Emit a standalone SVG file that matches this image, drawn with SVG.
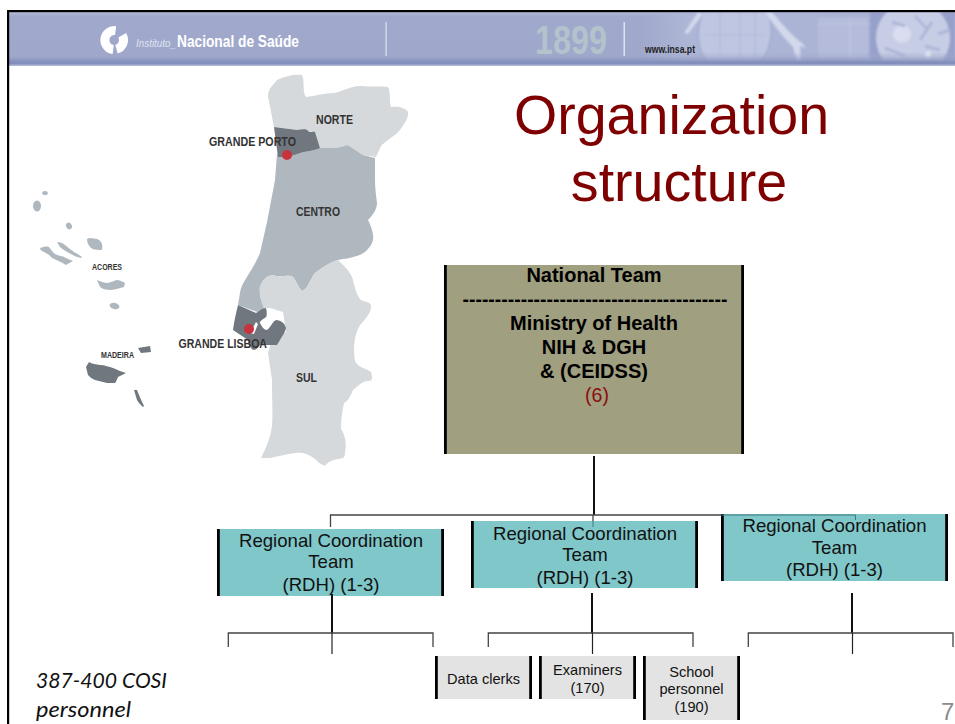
<svg xmlns="http://www.w3.org/2000/svg" width="955" height="724" viewBox="0 0 955 724">
<style>
text{font-family:"Liberation Sans",Arial,sans-serif}
.m{text-anchor:middle}
.bar{fill:#000}
.nat{font-size:20px;font-weight:bold;fill:#000}
.reg{font-size:18.6px;fill:#111}
.grey{font-size:14.6px;fill:#111}
.title{font-size:55.6px;fill:#7f0000}
.lab{font-weight:bold;fill:#333}
.hd{fill:#fff}
.c1{fill:none;stroke:#222;stroke-width:1.2}
.c2{fill:none;stroke:#444;stroke-width:1.3}
.c3{fill:none;stroke:#111;stroke-width:2}
.note{font-family:Lato,"Open Sans",sans-serif;font-style:italic;font-size:22px;fill:#111}
</style>
<defs>
<linearGradient id="hg" x1="0" y1="0" x2="0" y2="1">
<stop offset="0" stop-color="#b3bad6"/><stop offset=".08" stop-color="#a0a9cc"/><stop offset=".82" stop-color="#9fa8cb"/><stop offset=".95" stop-color="#7f8bb9"/><stop offset="1" stop-color="#b9bfdb"/>
</linearGradient>
<linearGradient id="ph" x1="0" y1="0" x2="1" y2="0">
<stop offset="0" stop-color="#aeb6d6" stop-opacity="0"/><stop offset=".15" stop-color="#aeb6d6" stop-opacity="1"/><stop offset="1" stop-color="#a9b1d4"/>
</linearGradient>
<linearGradient id="fade" x1="0" y1="0" x2="0" y2="1">
<stop offset="0" stop-color="#fff"/><stop offset=".8" stop-color="#fff"/><stop offset="1" stop-color="#000"/>
</linearGradient>
<mask id="photoMask" maskUnits="userSpaceOnUse" x="640" y="12" width="315" height="50"><rect x="640" y="12" width="315" height="50" fill="url(#fade)"/></mask>
<filter id="soft" x="-5%" y="-5%" width="110%" height="110%"><feGaussianBlur stdDeviation="0.6"/></filter>
<filter id="tex" x="0" y="0" width="100%" height="100%"><feGaussianBlur stdDeviation="1"/></filter>
</defs>

<g id="header">
<rect x="9" y="12" width="946" height="54" fill="url(#hg)"/>
<g mask="url(#photoMask)">
<rect x="640" y="12" width="315" height="50" fill="url(#ph)"/>
<g filter="url(#tex)">
<path d="M703 12C696 30 696 48 708 62H760C772 48 774 28 768 12Z" fill="#bfc6e1"/>
<path d="M703 12C696 30 696 48 708 62M768 12C774 28 772 48 760 62" fill="none" stroke="#98a2ca" stroke-width="1"/>
<path d="M720 12V58M740 12V58M755 12V58M705 35H765" stroke="#b1b9da" stroke-width="1.200" fill="none"/>
<path d="M698 12L684 33L688 34L703 14ZM772 12C782 24 792 36 803 44L806 48L800 46L801 62H797L793 47C784 38 776 28 765 12Z" fill="#d3d8ec"/>
<rect x="818" y="18" width="50" height="42" fill="#b5bcdb"/>
<path d="M818 24H870M850 18V60" stroke="#c2c8e2" stroke-width="1"/>
<rect x="870" y="12" width="85" height="48" fill="#96a0ca"/>
<circle cx="913" cy="38" r="37" fill="#c7cde5"/>
<circle cx="902" cy="34" r="9" fill="#d9ddef"/>
<path d="M915 16L928 30M932 22L920 40M885 48L905 56M925 46L940 50M938 34L950 30M892 22L905 26" stroke="#aab3d6" stroke-width="2.500" fill="none"/>
<circle cx="928" cy="55" r="3" fill="#eceef7"/>
</g>
</g>
<g id="logo" fill="none" stroke="#fff" stroke-width="9">
<path d="M115.600 30.600A9.500 9.500 0 1 0 113.200 49.500"/>
<path d="M122.200 35.200A9.500 9.500 0 0 1 116.500 49.200"/>
</g>
<text x="136" y="47" font-size="10" font-style="italic" fill="#dfe3f0" textLength="40" lengthAdjust="spacingAndGlyphs">Instituto_</text>
<text x="177" y="47" font-size="16" font-weight="bold" class="hd" textLength="122" lengthAdjust="spacingAndGlyphs">Nacional de Saúde</text>
<rect x="385.500" y="22" width="1.200" height="34" fill="#dfe3f0"/>
<text x="535" y="54" font-size="41" font-weight="bold" fill="#b4c2cc" textLength="72" lengthAdjust="spacingAndGlyphs">1899</text>
<rect x="623.500" y="22" width="1.500" height="34" fill="#dfe3f0"/>
<text x="645" y="53" font-size="10" font-weight="bold" fill="#222" textLength="50" lengthAdjust="spacingAndGlyphs">www.insa.pt</text>
</g>
<rect x="7" y="10" width="948" height="2.200" fill="#000"/>
<rect x="7" y="10" width="2.200" height="714" fill="#000"/>

<g id="map" filter="url(#soft)">
<path id="norte" fill="#d5d9dc" d="M268 97C268 88 272 87 277 80C285 76 295 74 302 75C305 80 302 92 306 97C315 96 325 93 333 93C342 92 350 86 360 86C370 87 380 86 388 87C391 92 389 102 391 107C398 106 406 108 408 112C409 118 404 124 400 130C394 137 385 141 381 146L376 157L363 155C355 150 352 147 347 145C338 149 328 148 320 148L315 132L297 130L274 127C272 118 270 105 268 97Z"/>
<path id="centro" fill="#b0b8bf" d="M277 154L275 180L267 222L260 253C256 263 250 272 245 280C242 285 240 290 240 293L238 305L260 313L264 308C261 300 259 294 260 287C263 278 268 276 273 275C280 278 288 274 293 277C297 282 299 290 303 291C308 288 311 278 315 273C322 268 330 262 338 260C350 258 362 256 367 250C372 245 374 240 373 235C372 228 370 224 368 220C374 214 377 208 377 203C376 195 375 188 375 180L375 158L363 155C355 150 352 147 347 145C338 149 328 148 320 148L290 153Z"/>
<path id="sul" fill="#d5d9dc" d="M260 287C263 278 268 276 273 275C280 278 288 274 293 277C297 282 299 290 303 291C308 288 311 278 315 273C322 268 330 262 338 260C344 266 351 272 353 280C355 290 358 297 361 300C366 302 370 302 371 305C372 312 366 318 360 325C354 335 353 348 355 361C358 368 368 369 371 372C373 378 372 381 369 381C362 381 358 386 353 390C349 400 346 402 344 403C342 412 341 420 341 429C345 434 347 445 345 452C345 458 344 458 338 459C332 460 328 462 325 466L319 463C315 458 310 455 303 453C295 452 285 455 270 458L261 458C265 450 270 440 272 426C273 415 272 400 272 380L268 353L272 340L286 332L283 312L270 308L264 308C261 300 259 294 260 287Z"/>
<path id="porto" fill="#6f777e" d="M274 127L297 130C302 130 305 128 308 131C311 133 313 131 315 132L320 148C313 151 306 151 300 153C294 155 288 157 284 157L278 157Z"/>
<path id="lisboa" fill="#6f777e" d="M238 305L256 313C260 311 262 308 266 308C267 312 267 316 266 317C262 320 259 322 260 323C262 327 264 330 267 330C272 326 273 320 277 320C281 321 284 322 286 328C285 333 282 336 277 345L260 345C258 348 256 350 253 350C250 348 249 343 248 340L233 330C234 322 236 313 238 305Z"/>
<path d="M256 322L258 324L254 334L250 333Z" fill="#fff"/>
<circle cx="287" cy="155" r="5" fill="#c8323c"/>
<circle cx="249" cy="329" r="5" fill="#c8323c"/>
<g id="azores" fill="#b0b8bf">
<ellipse cx="45" cy="193" rx="2.800" ry="2"/>
<ellipse cx="37" cy="206" rx="4" ry="5.500"/>
<ellipse cx="69" cy="226" rx="2.800" ry="3.500" transform="rotate(-30 69 226)"/>
<path d="M87 239C90 237 94 239 97 239C102 241 103 245 102 250C98 250 94 250 91 248C88 245 87 242 87 239Z"/>
<path d="M57 242C60 242 63 243 65 245C68 248 72 250 74 252C77 254 80 255 82 257L81 258C77 257 74 256 71 254C67 252 62 249 60 247Z"/>
<path d="M40 248C43 247 47 246 49 247C51 249 52 252 55 254C59 256 63 256 66 258L73 261L66 265C62 262 56 260 52 258C50 255 46 253 44 252C42 251 40 250 40 248Z"/>
<path d="M97 280C100 281 104 283 108 283C112 282 115 280 118 280C121 281 124 282 125 283L124 287C119 288 114 290 110 290C106 290 102 289 100 287Z"/>
<ellipse cx="114.500" cy="306" rx="5" ry="3.200" transform="rotate(15 114.500 306)"/>
</g>
<g id="madeira" fill="#6f777e">
<path d="M86 367L89 362C92 364 96 364 100 365C105 365 109 367 113 368C118 370 122 372 126 373L118 377C117 379 116 382 115 383L107 383C103 382 99 381 95 380C92 379 90 377 88 375Z"/>
<path d="M138 348L150 346L151 352L141 353Z"/>
<path d="M134 390L137 390C139 395 141 400 144 406L143 407C140 404 138 402 137 400Z"/>
</g>
</g>
<g id="map-labels">
<text class="lab" x="316" y="124" font-size="13.500" textLength="37" lengthAdjust="spacingAndGlyphs">NORTE</text>
<text class="lab" x="209" y="146" font-size="13.500" textLength="87" lengthAdjust="spacingAndGlyphs">GRANDE PORTO</text>
<text class="lab" x="296" y="216" font-size="13.500" textLength="44" lengthAdjust="spacingAndGlyphs">CENTRO</text>
<text class="lab" x="92" y="270" font-size="8.500" textLength="30" lengthAdjust="spacingAndGlyphs">ACORES</text>
<text class="lab" x="178.500" y="348" font-size="13.500" textLength="88.500" lengthAdjust="spacingAndGlyphs">GRANDE LISBOA</text>
<text class="lab" x="101" y="358" font-size="8.500" textLength="33" lengthAdjust="spacingAndGlyphs">MADEIRA</text>
<text class="lab" x="296" y="382" font-size="13.500" textLength="21" lengthAdjust="spacingAndGlyphs">SUL</text>
</g>

<g id="title">
<text class="title m" x="671.500" y="134">Organization</text>
<text class="title m" x="679" y="201">structure</text>
</g>

<g id="node-national">
<rect x="444" y="265" width="300" height="189" fill="#a09f80"/>
<rect class="bar" x="444" y="265" width="2.800" height="189"/>
<rect class="bar" x="741.200" y="265" width="2.800" height="189"/>
<text class="nat m" x="594" y="282">National Team</text>
<text class="nat m" x="595" y="306" textLength="265" lengthAdjust="spacingAndGlyphs">-----------------------------------------</text>
<text class="nat m" x="594" y="330">Ministry of Health</text>
<text class="nat m" x="594" y="354">NIH &amp; DGH</text>
<text class="nat m" x="594" y="378">&amp; (CEIDSS)</text>
<text class="m" x="597" y="402" font-size="19.500" fill="#8b0d0d">(6)</text>
</g>

<g id="node-regional-1">
<rect x="217" y="529" width="227" height="67" fill="#80c7c9"/>
<rect class="bar" x="217" y="529" width="2.800" height="67"/>
<rect class="bar" x="441.200" y="529" width="2.800" height="67"/>
<text class="reg m" x="331" y="547">Regional Coordination</text>
<text class="reg m" x="331" y="568">Team</text>
<text class="reg m" x="331" y="591">(RDH) (1-3)</text>
</g>
<g id="node-regional-2">
<rect x="471" y="521" width="227" height="67" fill="#80c7c9"/>
<rect class="bar" x="471" y="521" width="2.800" height="67"/>
<rect class="bar" x="695.200" y="521" width="2.800" height="67"/>
<text class="reg m" x="585" y="540">Regional Coordination</text>
<text class="reg m" x="585" y="561">Team</text>
<text class="reg m" x="585" y="584">(RDH) (1-3)</text>
</g>
<g id="node-regional-3">
<rect x="721" y="514" width="227" height="67" fill="#80c7c9"/>
<rect class="bar" x="721" y="514" width="2.800" height="67"/>
<rect class="bar" x="945.200" y="514" width="2.800" height="67"/>
<text class="reg m" x="834.500" y="532">Regional Coordination</text>
<text class="reg m" x="834.500" y="554">Team</text>
<text class="reg m" x="834.500" y="576">(RDH) (1-3)</text>
</g>

<g id="connectors">
<path class="c3" d="M594 456V515"/>
<path class="c2" d="M330.500 527V515H721"/>
<path d="M721 515H855.500V520M593 521V527" fill="none" stroke="#3d7c80" stroke-width="1"/>
<path class="c2" d="M593 515V521"/>
<path class="c3" d="M332 594V633"/>
<path class="c2" d="M228.300 647V633H433V647"/>
<path class="c1" d="M332 633V654"/>
<path class="c3" d="M592 593V633"/>
<path class="c2" d="M488.300 647V633H693V647"/>
<path class="c1" d="M592.500 633V654"/>
<path class="c3" d="M852 593V633"/>
<path class="c2" d="M748.300 647V633H953V647"/>
<path class="c1" d="M852.500 633V654"/>
</g>

<g id="node-data-clerks">
<rect x="435" y="656" width="97" height="43" fill="#e3e3e3"/>
<rect class="bar" x="435" y="656" width="2.800" height="43"/>
<rect class="bar" x="529.200" y="656" width="2.800" height="43"/>
<text class="grey m" x="483.500" y="684">Data clerks</text>
</g>
<g id="node-examiners">
<rect x="539" y="656" width="97" height="43" fill="#e3e3e3"/>
<rect class="bar" x="539" y="656" width="2.800" height="43"/>
<rect class="bar" x="633.200" y="656" width="2.800" height="43"/>
<text class="grey m" x="587.500" y="675">Examiners</text>
<text class="grey m" x="587.500" y="693">(170)</text>
</g>
<g id="node-school">
<rect x="643" y="656" width="97" height="64" fill="#e3e3e3"/>
<rect class="bar" x="643" y="656" width="2.800" height="64"/>
<rect class="bar" x="737.200" y="656" width="2.800" height="64"/>
<text class="grey m" x="691.500" y="677">School</text>
<text class="grey m" x="691.500" y="694">personnel</text>
<text class="grey m" x="691.500" y="712">(190)</text>
</g>

<g id="footer">
<text class="note" x="36" y="688" textLength="131" lengthAdjust="spacingAndGlyphs">387-400 COSI</text>
<text class="note" x="36" y="717" textLength="95" lengthAdjust="spacingAndGlyphs">personnel</text>
<text x="941" y="720" font-size="24" fill="#8b8b8b" font-family="'Open Sans',sans-serif">7</text>
</g>
</svg>
